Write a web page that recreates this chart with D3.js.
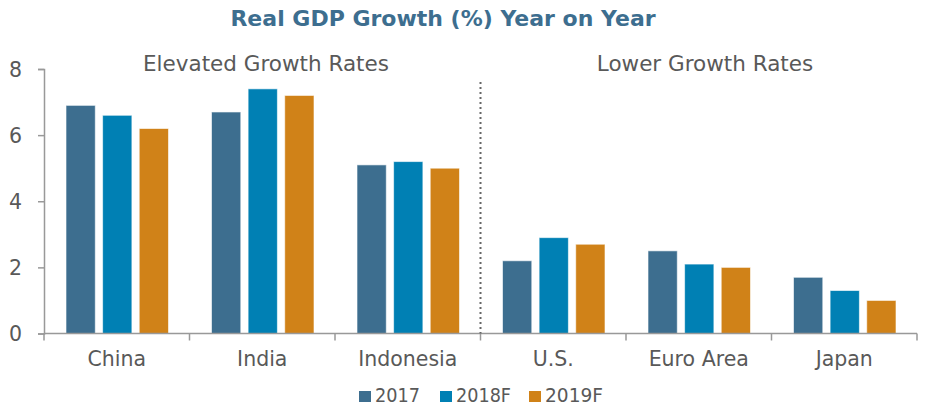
<!DOCTYPE html>
<html lang="en">
<head>
<meta charset="UTF-8">
<title>Real GDP Growth</title>
<script src="https://cdn.jsdelivr.net/npm/d3@7"></script>
<style>
    body { margin: 0; background: #fff; }
    svg, svg text { font-family: "DejaVu Sans", Verdana, sans-serif; }
    .tick text { fill: #595959; font-size: 20.5px; font-family: "DejaVu Sans", sans-serif; }
    .domain, .tick line { stroke: #999; stroke-width: 1.5px; }
</style>
</head>
<body>
<div id="chart"></div>
<script>
const categories = ['China', 'India', 'Indonesia', 'U.S.', 'Euro Area', 'Japan']
const seriesNames = ['2017', '2018F', '2019F']
const values2017 = [6.9, 6.7, 5.1, 2.2, 2.5, 1.7]
const values2018F = [6.6, 7.4, 5.2, 2.9, 2.1, 1.3]
const values2019F = [6.2, 7.2, 5.0, 2.7, 2.0, 1.0]
const yTicks = [0, 2, 4, 6, 8]
const colors = ['#3d6e8f', '#0080b4', '#d08218']

const W = 926, H = 406
const margin = {left: 44, right: 9, top: 69, bottom: 72.5}

const svg = d3.select('#chart').append('svg')
    .attr('width', W).attr('height', H)

const x = d3.scaleBand().domain(categories)
    .range([margin.left, W - margin.right])
const xs = d3.scaleBand().domain(seriesNames)
    .range([22, x.bandwidth() - 21]).paddingInner(0.2)
const y = d3.scaleLinear().domain([0, 8]).range([H - margin.bottom, margin.top])

const series = [values2017, values2018F, values2019F]

// 标题
svg.append('text').attr('x', 443).attr('y', 26)
    .attr('text-anchor', 'middle')
    .style('font-size', '22px').style('font-weight', 'bold')
    .style('fill', '#3d6e8f')
    .text('Real GDP Growth (%) Year on Year')

// 柱子
const g = svg.append('g')
categories.forEach((c, ci) => {
    seriesNames.forEach((s, si) => {
        g.append('rect')
            .attr('x', x(c) + xs(s))
            .attr('y', y(series[si][ci]))
            .attr('width', xs.bandwidth())
            .attr('height', y(0) - y(series[si][ci]))
            .attr('fill', colors[si])
            .attr('stroke', '#fff')
            .attr('stroke-opacity', 0.6)
            .attr('stroke-width', 1)
    })
})

// y轴
svg.append('g')
    .attr('transform', `translate(${margin.left},0)`)
    .call(d3.axisLeft(y).tickValues(yTicks).tickSize(6).tickPadding(16))
    .call(a => a.selectAll('.tick text').attr('dy', '0.36em'))

// x轴
const xAxis = svg.append('g')
    .attr('transform', `translate(0,${y(0)})`)
    .call(d3.axisBottom(x).tickSize(0).tickPadding(18))
xAxis.select('.domain').attr('d', `M${margin.left},0H${W - margin.right}`)
xAxis.selectAll('.bound')
    .data(categories.map(c => x(c)).concat([x.range()[1]]))
    .enter().append('line')
    .attr('class', 'bound')
    .attr('x1', d => d).attr('x2', d => d)
    .attr('y1', 0).attr('y2', 7)
    .attr('stroke', '#999').attr('stroke-width', 1.5)

// 分隔虚线
const sep = x('U.S.')
svg.append('line')
    .attr('x1', sep).attr('x2', sep)
    .attr('y1', 82).attr('y2', y(0))
    .attr('stroke', '#666').attr('stroke-width', 2)
    .attr('stroke-dasharray', '2,3')

// 分组标题
svg.append('text').attr('x', 266).attr('y', 71)
    .attr('text-anchor', 'middle').style('font-size', '21.5px').style('fill', '#595959')
    .text('Elevated Growth Rates')
svg.append('text').attr('x', 705).attr('y', 71)
    .attr('text-anchor', 'middle').style('font-size', '21.5px').style('fill', '#595959')
    .text('Lower Growth Rates')

// 图例
const legendX = [359, 440, 529]
const legendW = [45, 55, 58]
const legend = svg.append('g')
seriesNames.forEach((s, i) => {
    legend.append('rect')
        .attr('x', legendX[i]).attr('y', 391)
        .attr('width', 12).attr('height', 11)
        .attr('fill', colors[i])
    legend.append('text')
        .attr('x', legendX[i] + 16).attr('y', 401.5)
        .attr('textLength', legendW[i]).attr('lengthAdjust', 'spacingAndGlyphs')
        .style('font-size', '19.5px').style('fill', '#595959')
        .text(s)
})
</script>
</body>
</html>
